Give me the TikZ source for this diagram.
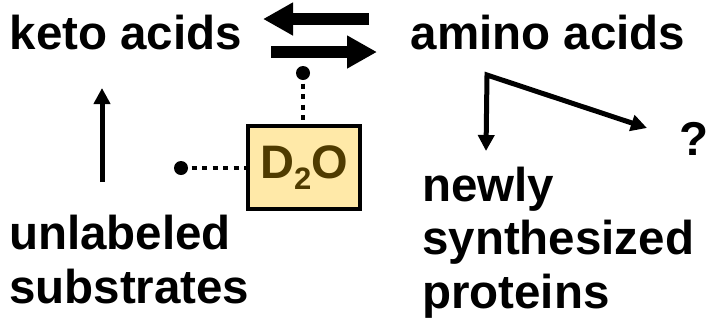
\documentclass[tikz,border=0pt]{standalone}
\usepackage{fontspec}
\setmainfont{Liberation Sans}
\usetikzlibrary{arrows.meta}
\definecolor{boxfill}{HTML}{FFE9A8}
\definecolor{boxtext}{HTML}{4F3B00}
\tikzset{
  label/.style={inner sep=0pt, anchor=base west, align=left,
    font=\fontsize{47.5bp}{53.5bp}\selectfont\bfseries},
  waterbox/.style={draw=black, line width=4bp, fill=boxfill, text=boxtext,
    minimum width=112bp, minimum height=83bp, inner sep=0pt,
    font=\fontsize{47bp}{47bp}\selectfont\bfseries},
  dotend/.style={circle, fill=black, inner sep=0pt, minimum size=14bp},
  dotline/.style={line width=4.5bp, dash pattern=on 5bp off 5.5bp},
  bigarrow/.style={line width=11.5bp, -{Triangle[length=30bp, width=31bp]}},
  thinarrow/.style={line width=5bp, line join=miter,
    {Triangle[length=16bp, width=16bp]}-{Triangle[length=16bp, width=16bp]}},
  uparrow/.style={line width=5bp, -{Triangle[length=16bp, width=16bp]}}
}
\begin{document}
\begin{tikzpicture}[x=1bp, y=-1bp]
  \useasboundingbox[fill=white] (0,0) rectangle (708,332);

  % labels (multi-line labels are placed by the baseline of their last line)
  \node[label] (keto) at (9.5,49) {keto acids};
  \node[label] (amino) at (410.5,49) {amino acids};
  \node[label] (unlab) at (9,303) {unlabeled\\substrates};
  \node[label] (prot) at (422,308) {newly\\synthesized\\proteins};
  \node[label] (unk) at (679,155.5) {?};

  % deuterated water
  \node[waterbox] (d2o) at (304,167.5)
    {D\raisebox{-0.22em}{\fontsize{31bp}{31bp}\selectfont 2}O};

  % reversible transamination
  \coordinate (revA) at (369,19);
  \coordinate (revB) at (263,19);
  \coordinate (fwdA) at (271,52);
  \coordinate (fwdB) at (377,52);
  \draw[bigarrow] (revA) -- (revB);
  \draw[bigarrow] (fwdA) -- (fwdB);

  % label incorporation points
  \node[dotend] (vdot) at (303,73) {};
  \node[dotend] (hdot) at (181,168) {};
  \draw[dotline] (vdot.center) -- (vdot |- d2o.north);
  \draw[dotline] (hdot.center) -- (hdot -| d2o.west);

  % substrate supply
  \coordinate (subtop) at (102,182);
  \coordinate (ketobot) at (102,88);
  \draw[uparrow] (subtop) -- (ketobot);

  % fate of amino acids
  \coordinate (protTip) at (486,151);
  \coordinate (fork) at (487,75);
  \coordinate (unkTip) at (647,128);
  \draw[thinarrow] (protTip) -- (fork) -- (unkTip);
\end{tikzpicture}
\end{document}
